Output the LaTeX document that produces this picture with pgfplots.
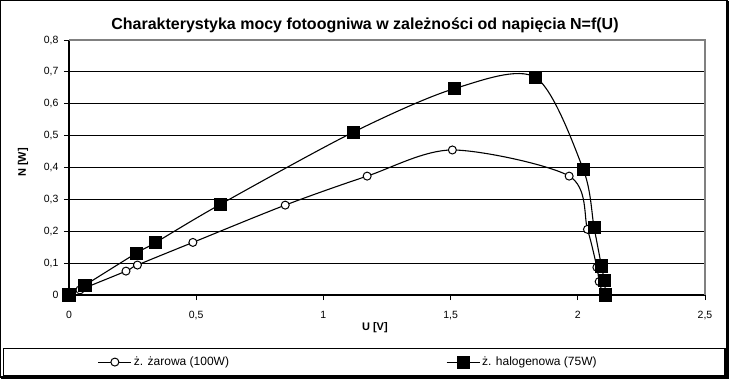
\documentclass[border=0pt]{standalone}
\usepackage{fontspec}
\setmainfont{Liberation Sans}
\usepackage{pgfplots}
\pgfplotsset{compat=1.18}
\begin{document}
\begin{tikzpicture}
\useasboundingbox (0,0) rectangle (729bp,-379bp);
\draw[line width=1bp] (0.5bp,-0.5bp) rectangle (727.5bp,-377.5bp);
\draw[line width=3bp] (727.5bp,-1bp) -- (727.5bp,-377.5bp) -- (1bp,-377.5bp);
\draw[line width=1.3bp] (3.6bp,-348.6bp) rectangle (725bp,-376bp);
\node[font=\fontsize{16bp}{18bp}\selectfont\bfseries, anchor=base] at (365bp,-29.5bp) {Charakterystyka mocy fotoogniwa w zależności od napięcia N=f(U)};
\begin{axis}[
  at={(69bp,-295bp)}, anchor=south west,
  scale only axis, width=636bp, height=255bp,
  xmin=0, xmax=2.5, ymin=0, ymax=0.8,
  xtick={0,0.5,1,1.5,2,2.5},
  ytick={0,0.1,0.2,0.3,0.4,0.5,0.6,0.7,0.8},
  axis x line*=bottom, axis y line*=left,
  axis line style={line width=1.3bp, -},
  tick align=outside, major tick length=5bp,
  tick style={line width=1bp, black},
  ymajorgrids, major grid style={line width=1bp, black},
  /pgf/number format/use comma,
  /pgf/number format/fixed,
  /pgf/number format/assume math mode=true,
  ticklabel style={font=\fontsize{10.5bp}{12bp}\selectfont},
  xticklabel style={yshift=-8bp},
  yticklabel style={xshift=-2bp},
  xlabel={U [V]}, ylabel={N [W]},
  every axis x label/.style={at={(rel axis cs:0.481,0)}, anchor=north, yshift=-24bp, font=\fontsize{11bp}{13bp}\selectfont\bfseries},
  every axis y label/.style={at={(rel axis cs:0,0.52)}, rotate=90, anchor=center, yshift=46bp, font=\fontsize{11bp}{13bp}\selectfont\bfseries},
  legend columns=2,
  legend style={at={(rel axis cs:0.045,-0.263)}, anchor=west, draw=none, fill=none, inner sep=0pt,
    font=\fontsize{12bp}{14bp}\selectfont,
    /tikz/every even column/.append style={column sep=215bp}},
  legend image code/.code={\draw[mark repeat=2, mark phase=2, #1] plot coordinates {(0bp,0bp) (16.5bp,0bp) (33bp,0bp)};},
]
\addplot[black, line width=1.1bp, smooth, tension=0.5, mark=*, mark size=4bp,
  mark options={fill=white, line width=1bp, solid}] coordinates {
  (0,0) (0.043,0.016) (0.224,0.075) (0.269,0.094) (0.487,0.165) (0.850,0.282)
  (1.172,0.373) (1.507,0.455) (1.966,0.373) (2.038,0.206) (2.075,0.087)
  (2.084,0.042) (2.100,0.000)};
\addlegendentry{ż. żarowa (100W)}
\addplot[black, line width=1.1bp, smooth, tension=0.5, mark=square*, mark size=6bp,
  mark options={fill=black, solid}] coordinates {
  (0,0) (0.063,0.031) (0.264,0.131) (0.339,0.164) (0.594,0.284) (1.118,0.511)
  (1.517,0.648) (1.835,0.682) (2.021,0.395) (2.064,0.212) (2.093,0.091)
  (2.104,0.045) (2.110,0.000)};
\addlegendentry{ż. halogenowa (75W)}
\end{axis}
\draw[gray, line width=1.3bp] (69bp,-40bp) -- (705bp,-40bp) -- (705bp,-295bp);
\end{tikzpicture}
\end{document}
